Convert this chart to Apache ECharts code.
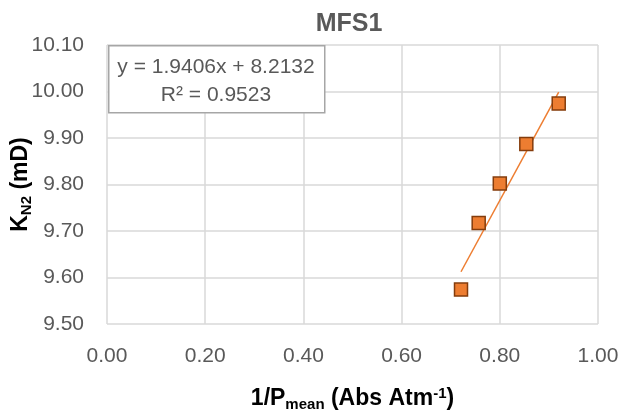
<!DOCTYPE html>
<html>
<head>
<meta charset="utf-8">
<script src="https://cdn.jsdelivr.net/npm/echarts@6/dist/echarts.min.js"></script>
<style>html,body{margin:0;padding:0;background:#fff}#c{width:641px;height:418px}</style>
</head>
<body>
<div id="c"></div>
<script>
var xValues = [0.721, 0.757, 0.800, 0.854, 0.920];
var yValues = [9.574, 9.717, 9.802, 9.887, 9.974];
var trendSlope = 1.9406;
var trendIntercept = 8.2132;
var equationLines = ['y = 1.9406x + 8.2132', 'R² = 0.9523'];
var titleText = 'MFS1';

var points = xValues.map(function (x, i) { return [x, yValues[i]]; });
var xMin = Math.min.apply(null, xValues), xMax = Math.max.apply(null, xValues);
var trend = [[xMin, trendSlope * xMin + trendIntercept], [xMax, trendSlope * xMax + trendIntercept]];

var chart = echarts.init(document.getElementById('c'));
var gray = '#595959';
var nameRich = {
  b: { fontSize: 23, fontWeight: 'bold', color: '#000', fontFamily: 'Liberation Sans', lineHeight: 26 },
  sub: { fontSize: 15, fontWeight: 'bold', color: '#000', fontFamily: 'Liberation Sans', lineHeight: 15, verticalAlign: 'bottom' },
  sup: { fontSize: 15, fontWeight: 'bold', color: '#000', fontFamily: 'Liberation Sans', lineHeight: 15, verticalAlign: 'top' }
};
chart.setOption({
  animation: false,
  backgroundColor: '#fff',
  title: {
    text: titleText, left: 344, top: 7, textAlign: 'center',
    textStyle: { fontSize: 25, fontWeight: 'bold', color: gray, fontFamily: 'Liberation Sans' }
  },
  grid: { left: 107, right: 43, top: 45, bottom: 94, containLabel: false, outerBoundsMode: 'none' },
  xAxis: {
    type: 'value', min: 0, max: 1, interval: 0.2,
    name: '{b|1/P}{sub|mean}{b| (Abs Atm}{sup|-1}{b|)}',
    nameLocation: 'middle', nameGap: 62, nameMoveOverlap: false,
    nameTextStyle: { rich: nameRich },
    axisLine: { show: false }, axisTick: { show: false },
    axisLabel: { margin: 22, fontSize: 21, color: gray, fontFamily: 'Liberation Sans', formatter: function (v) { return v.toFixed(2); } },
    splitLine: { show: true, lineStyle: { color: '#d9d9d9', width: 1.5 } }
  },
  yAxis: {
    type: 'value', min: 9.5, max: 10.1, interval: 0.1,
    name: '{b|K}{sub|N2}{b| (mD)}',
    nameLocation: 'middle', nameGap: 73, nameMoveOverlap: false,
    nameTextStyle: { rich: nameRich },
    axisLine: { show: false }, axisTick: { show: false },
    axisLabel: { margin: 23, fontSize: 21, color: gray, fontFamily: 'Liberation Sans', formatter: function (v) { return v.toFixed(2); } },
    splitLine: { show: true, lineStyle: { color: '#d9d9d9', width: 1.5 } }
  },
  series: [
    {
      type: 'line', data: trend, symbol: 'none', silent: true,
      lineStyle: { color: '#ED7D31', width: 1.5 }, z: 2
    },
    {
      type: 'scatter', data: points, symbol: 'rect', symbolSize: 13,
      itemStyle: { color: '#ED7D31', borderColor: '#843C0C', borderWidth: 1.5, opacity: 1 }, z: 3
    }
  ],
  graphic: [
    {
      type: 'rect', left: 108, top: 45, z: 10,
      shape: { width: 216, height: 67 },
      style: { fill: '#fff', stroke: '#a6a6a6', lineWidth: 1.5 }
    },
    {
      type: 'text', x: 216, y: 67, z: 11,
      style: { text: equationLines[0], fill: gray, font: '21px "Liberation Sans"', textAlign: 'center', textVerticalAlign: 'middle' }
    },
    {
      type: 'text', x: 216, y: 95, z: 11,
      style: { text: equationLines[1], fill: gray, font: '21px "Liberation Sans"', textAlign: 'center', textVerticalAlign: 'middle' }
    }
  ]
});
</script>
</body>
</html>
